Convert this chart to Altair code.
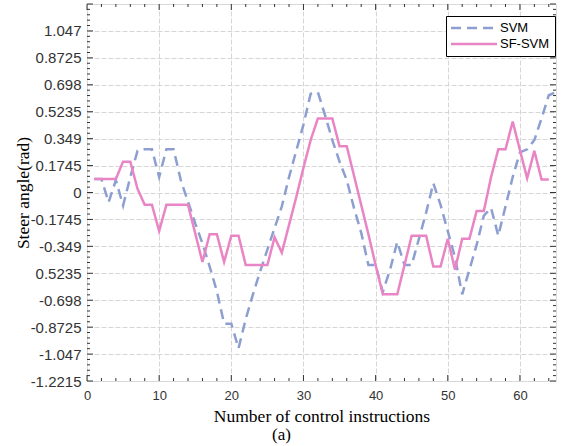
import altair as alt
import pandas as pd
import numpy as np

# ---- data ----
x_svm = list(range(1, 66))
svm_vals = [0.087, 0.087, -0.063, 0.08, -0.085, 0.1, 0.27, 0.28, 0.28, 0.1,
            0.28, 0.28, 0.08, -0.06, -0.2, -0.33, -0.48, -0.64, -0.85, -0.85,
            -1.01, -0.82, -0.66, -0.51, -0.37, -0.23, -0.09, 0.1, 0.27, 0.44,
            0.64, 0.65, 0.5, 0.34, 0.2, 0.08, -0.1, -0.26, -0.47, -0.47,
            -0.645, -0.5, -0.32, -0.47, -0.47, -0.3, -0.13, 0.06, -0.08, -0.25,
            -0.42, -0.66, -0.5, -0.34, -0.15, -0.1, -0.28, -0.09, 0.1, 0.26,
            0.28, 0.34, 0.48, 0.63, 0.65]
x_sf = list(range(1, 65))
sf_vals = [0.087, 0.087, 0.087, 0.087, 0.2, 0.2, 0.024, -0.08, -0.08, -0.25,
           -0.08, -0.08, -0.08, -0.08, -0.265, -0.45, -0.27, -0.27, -0.45, -0.28,
           -0.28, -0.47, -0.47, -0.47, -0.47, -0.29, -0.39, -0.21, -0.03, 0.16,
           0.34, 0.48, 0.48, 0.48, 0.30, 0.30, 0.11, -0.08, -0.27, -0.47,
           -0.66, -0.66, -0.66, -0.47, -0.28, -0.28, -0.28, -0.48, -0.48, -0.30,
           -0.50, -0.30, -0.30, -0.12, -0.12, 0.10, 0.28, 0.28, 0.46, 0.275,
           0.092, 0.27, 0.084, 0.084]

series_names = ["SVM", "SF-SVM"]
series_colors = ["#8c9fd0", "#e985c5"]
series_dash = [[10, 6], [1, 0]]

x_ticks = [0, 10, 20, 30, 40, 50, 60]
x_minor = list(range(0, 66, 2))
y_ticks = [-1.2215, -1.047, -0.8725, -0.698, -0.5235, -0.349, -0.1745, 0,
           0.1745, 0.349, 0.5235, 0.698, 0.8725, 1.047, 1.2215]
y_tick_labels = ["-1.2215", "-1.047", "-0.8725", "-0.698", "0.5235", "-0.349",
                 "-0.1745", "0", "0.1745", "0.349", "0.5235", "0.698", "0.8725",
                 "1.047", ""]
y_minor = [round(v, 4) for v in np.arange(-1.2215, 1.2216, 0.0349)]

W, H = 469, 377
AX = "#333333"

df = pd.concat([
    pd.DataFrame({"x": x_svm, "y": svm_vals, "series": "SVM"}),
    pd.DataFrame({"x": x_sf, "y": sf_vals, "series": "SF-SVM"}),
], ignore_index=True)

xscale = alt.Scale(domain=[0, 65], nice=False, zero=False)
yscale = alt.Scale(domain=[-1.2215, 1.2215], nice=False, zero=False)

label_expr = ("[" + ",".join("'%s'" % s for s in y_tick_labels) + "][indexof(["
              + ",".join(str(v) for v in y_ticks) + "], datum.value)]")

x_axis = alt.Axis(values=x_ticks, title="Number of control instructions",
                  domain=False, ticks=False, tickSize=0, labelPadding=8,
                  labelOverlap=False, labelFlush=False,
                  labelFont="Liberation Sans", labelFontSize=13, labelColor=AX,
                  titleFont="Liberation Serif", titleFontSize=17.5,
                  titleFontWeight="normal", titleColor="black", titlePadding=5,
                  grid=True, gridColor="#d6d6d6", gridDash=[5, 2], gridWidth=1)
y_axis = alt.Axis(values=y_ticks, labelExpr=label_expr, title="Steer angle(rad)",
                  domain=False, ticks=False, tickSize=0, labelPadding=6,
                  labelOverlap=False, labelFlush=False, labelBound=False,
                  labelFont="Liberation Sans", labelFontSize=15, labelColor=AX,
                  titleFont="Liberation Serif", titleFontSize=17.5,
                  titleFontWeight="normal", titleColor="black",
                  titleX=-64, titleBaseline="middle",
                  grid=True, gridColor="#d6d6d6", gridDash=[5, 2], gridWidth=1)

legend_common = dict(orient="none", legendX=359, legendY=12, title=None,
                     symbolType="M-4,0H4", symbolSize=132, symbolOffset=16,
                     symbolStrokeWidth=2.5, labelFont="Liberation Sans",
                     labelFontSize=13, labelColor="black",
                     fillColor="white", strokeColor="black",
                     padding=5, rowPadding=2, labelOffset=19)
color = alt.Color("series:N", scale=alt.Scale(domain=series_names, range=series_colors),
                  legend=alt.Legend(**legend_common))
dash = alt.StrokeDash("series:N", scale=alt.Scale(domain=series_names, range=series_dash),
                      legend=alt.Legend(**legend_common))

base = alt.Chart(df).encode(
    x=alt.X("x:Q", scale=xscale, axis=x_axis),
    y=alt.Y("y:Q", scale=yscale, axis=y_axis),
    color=color, strokeDash=dash,
)
svm_line = base.transform_filter("datum.series == 'SVM'").mark_line(strokeWidth=2.5)
sf_line = base.transform_filter("datum.series == 'SF-SVM'").mark_line(strokeWidth=2.5)

# inward tick marks on all four sides
x_minor_only = [v for v in x_minor if v not in x_ticks]
xt = pd.DataFrame({"x": x_ticks + x_minor_only,
                   "len": [6] * len(x_ticks) + [3] * len(x_minor_only)})
yt_minor = [v for v in y_minor if all(abs(v - m) > 0.005 for m in y_ticks)]
yt = pd.DataFrame({"y": y_ticks + yt_minor,
                   "len": [6] * len(y_ticks) + [3] * len(yt_minor)})

def xtick(major, top):
    L = 6 if major else 3
    d = xt[xt["len"] == L]
    y0, y1 = (0, L) if top else (H, H - L)
    return alt.Chart(d).mark_rule(color=AX, strokeWidth=1).encode(
        x=alt.X("x:Q", scale=xscale, axis=x_axis), y=alt.value(y0), y2=alt.value(y1))

def ytick(major, right):
    L = 6 if major else 3
    d = yt[yt["len"] == L]
    x0, x1 = (W, W - L) if right else (0, L)
    return alt.Chart(d).mark_rule(color=AX, strokeWidth=1).encode(
        y=alt.Y("y:Q", scale=yscale, axis=y_axis), x=alt.value(x0), x2=alt.value(x1))

ticks = [xtick(m, t) for m in (True, False) for t in (True, False)] + \
        [ytick(m, r) for m in (True, False) for r in (True, False)]

chart = alt.layer(svm_line, sf_line, *ticks).properties(
    width=W, height=H,
    padding={"left": 87, "top": 4, "right": 5, "bottom": 65},
    autosize="none",
    title=alt.TitleParams(text="(a)", orient="bottom", anchor="middle", dx=-40,
                          font="Liberation Serif", fontSize=17, fontWeight="normal",
                          color="black", offset=2),
).configure_view(stroke="#3a3a3a", strokeWidth=1.5).configure(
    background="white").configure_axisY(labelOverlap=False)

chart.save("out.html", embed_options={"renderer": "svg", "actions": False})
